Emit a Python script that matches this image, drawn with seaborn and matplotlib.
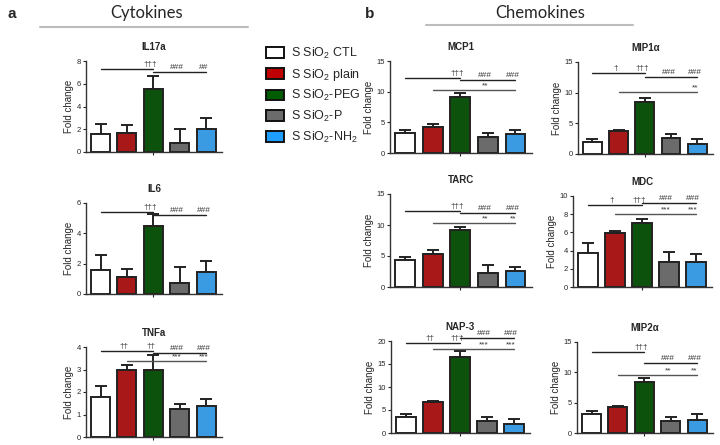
import matplotlib
matplotlib.use("Agg")
import matplotlib.pyplot as plt
from matplotlib.lines import Line2D
from matplotlib.patches import Patch
import numpy as np
import pandas as pd
import seaborn as sns

# groups / legend
groups = ["CTL", "plain", "PEG", "P", "NH2"]
legend_labels = [
    "S SiO$_2$ CTL",
    "S SiO$_2$ plain",
    "S SiO$_2$-PEG",
    "S SiO$_2$-P",
    "S SiO$_2$-NH$_2$",
]
colors = ["#ffffff", "#c00000", "#005c00", "#6b6b6b", "#1e9fff"]

# cytokines
il17a_mean = [1.6, 1.7, 5.5, 0.75, 2.0]
il17a_sd = [0.9, 0.7, 1.2, 1.25, 1.0]
il6_mean = [1.55, 1.15, 4.5, 0.75, 1.45]
il6_sd = [1.0, 0.5, 0.75, 1.0, 0.7]
tnfa_mean = [1.8, 3.0, 3.0, 1.25, 1.38]
tnfa_sd = [0.45, 0.2, 0.65, 0.2, 0.3]

# chemokines
mcp1_mean = [3.2, 4.3, 9.2, 2.6, 3.1]
mcp1_sd = [0.5, 0.4, 0.6, 0.6, 0.7]
mip1a_mean = [2.0, 3.7, 8.5, 2.6, 1.6]
mip1a_sd = [0.4, 0.2, 0.6, 0.7, 0.8]
tarc_mean = [4.4, 5.3, 9.2, 2.2, 2.6]
tarc_sd = [0.4, 0.6, 0.5, 1.4, 0.7]
mdc_mean = [3.75, 5.9, 7.0, 2.75, 2.75]
mdc_sd = [1.05, 0.3, 0.5, 1.1, 0.85]
nap3_mean = [3.4, 6.8, 16.6, 2.6, 1.9]
nap3_sd = [0.8, 0.2, 1.3, 0.8, 1.2]
mip2a_mean = [3.1, 4.3, 8.4, 1.9, 2.1]
mip2a_sd = [0.6, 0.2, 0.7, 0.7, 1.1]

# significance brackets (from bar, to bar, height) and marks (bar, height, text)
il17a_brackets = [(0, 2, 7.3), (2, 4, 7.0)]
il17a_marks = [(2, 7.3, "†††"), (3, 7.0, "###"), (4, 7.0, "##")]
il6_brackets = [(0, 2, 5.4), (2, 4, 5.2)]
il6_marks = [(2, 5.4, "†††"), (3, 5.2, "###"), (4, 5.2, "###")]
tnfa_brackets = [(0, 2, 3.82), (2, 4, 3.72), (1, 4, 3.37)]
tnfa_marks = [(1, 3.82, "††"), (2, 3.82, "††"), (3, 3.72, "###"), (4, 3.72, "###"),
              (3, 3.37, "***"), (4, 3.37, "***")]
mcp1_brackets = [(0, 2, 12.3), (2, 4, 11.9), (1, 4, 10.3)]
mcp1_marks = [(2, 12.3, "†††"), (3, 11.9, "###"), (4, 11.9, "###"), (3, 10.3, "**")]
mip1a_brackets = [(0, 2, 13.2), (2, 4, 12.6), (1, 4, 10.1)]
mip1a_marks = [(1, 13.2, "†"), (2, 13.2, "†††"), (3, 12.6, "###"), (4, 12.6, "###"),
               (4, 10.1, "**")]
tarc_brackets = [(0, 2, 12.3), (2, 4, 12.0), (1, 4, 10.3)]
tarc_marks = [(2, 12.3, "†††"), (3, 12.0, "###"), (4, 12.0, "###"),
              (3, 10.3, "**"), (4, 10.3, "**")]
mdc_brackets = [(0, 2, 9.0), (2, 4, 9.27), (1, 4, 8.0)]
mdc_marks = [(1, 9.0, "†"), (2, 9.0, "†††"), (3, 9.27, "###"), (4, 9.27, "###"),
             (3, 8.0, "***"), (4, 8.0, "***")]
nap3_brackets = [(0, 2, 19.6), (2, 4, 20.7), (1, 4, 18.2)]
nap3_marks = [(1, 19.6, "††"), (2, 19.6, "†††"), (3, 20.7, "###"), (4, 20.7, "###"),
              (3, 18.2, "***"), (4, 18.2, "***")]
mip2a_brackets = [(0, 2, 13.4), (2, 4, 11.5), (1, 4, 9.55)]
mip2a_marks = [(2, 13.4, "†††"), (3, 11.5, "###"), (4, 11.5, "###"),
               (3, 9.55, "**"), (4, 9.55, "**")]

sns.set_style("ticks")
plt.rcParams["font.family"] = ["Liberation Sans", "DejaVu Sans"]
plt.rcParams["mathtext.default"] = "regular"

W, H = 720, 445
fig = plt.figure(figsize=(7.2, 4.45), dpi=100)


def px_axes(left, right, top, bottom):
    return fig.add_axes([left / W, 1 - bottom / H, (right - left) / W, (bottom - top) / H])


def draw_panel(ax, title, mean, sd, yticks, brackets, marks):
    df = pd.DataFrame({"group": groups, "value": mean})
    sns.barplot(data=df, x="group", y="value", hue="group", palette=colors,
                order=groups, hue_order=groups, errorbar=None, legend=False,
                width=0.72, edgecolor="#222222", linewidth=1.4, ax=ax)
    x = np.arange(len(groups))
    ax.errorbar(x, mean, yerr=[np.zeros(len(sd)), sd], fmt="none",
                ecolor="#222222", elinewidth=1.4, capsize=4.5, capthick=1.4, zorder=1)
    for p in ax.patches:
        p.set_zorder(2)
    ax.set_ylim(0, yticks[-1])
    ax.set_yticks(yticks)
    ax.set_xlim(-0.55, 4.6)
    ax.set_xticks([2])
    ax.set_xticklabels([""])
    ax.set_xlabel("")
    ax.set_ylabel("Fold change", fontsize=7, labelpad=2)
    ax.tick_params(axis="y", labelsize=5.5, length=2.5, width=0.8, pad=1)
    ax.tick_params(axis="x", length=2.5, width=0.8)
    ax.set_title(title, fontsize=7, fontweight="bold", pad=8)
    for s in ["left", "bottom"]:
        ax.spines[s].set_linewidth(1.0)
        ax.spines[s].set_color("#333333")
    sns.despine(ax=ax)
    for k, (i0, i1, y) in enumerate(brackets):
        c = "#222222" if k < 2 else "#555555"
        ax.plot([i0, i1], [y, y], color=c, lw=1.0, clip_on=False)
    ymax = yticks[-1]
    for i, y, t in marks:
        ax.text(i - 0.1, y + ymax * 0.01, t, fontsize=6, ha="center", va="bottom",
                color="#333333", clip_on=False)


draw_panel(px_axes(86, 222, 61, 152), "IL17a", il17a_mean, il17a_sd,
           [0, 2, 4, 6, 8], il17a_brackets, il17a_marks)
draw_panel(px_axes(86, 222, 203, 294), "IL6", il6_mean, il6_sd,
           [0, 2, 4, 6], il6_brackets, il6_marks)
draw_panel(px_axes(86, 222, 347, 437), "TNFa", tnfa_mean, tnfa_sd,
           [0, 1, 2, 3, 4], tnfa_brackets, tnfa_marks)

draw_panel(px_axes(390, 532, 61, 153), "MCP1", mcp1_mean, mcp1_sd,
           [0, 5, 10, 15], mcp1_brackets, mcp1_marks)
draw_panel(px_axes(578, 713, 62, 154), "MIP1\u03b1", mip1a_mean, mip1a_sd,
           [0, 5, 10, 15], mip1a_brackets, mip1a_marks)
draw_panel(px_axes(390, 532, 194, 287), "TARC", tarc_mean, tarc_sd,
           [0, 5, 10, 15], tarc_brackets, tarc_marks)
draw_panel(px_axes(573, 712, 196, 287), "MDC", mdc_mean, mdc_sd,
           [0, 2, 4, 6, 8, 10], mdc_brackets, mdc_marks)
draw_panel(px_axes(391, 530, 341, 433), "NAP-3", nap3_mean, nap3_sd,
           [0, 5, 10, 15, 20], nap3_brackets, nap3_marks)
draw_panel(px_axes(577, 713, 342, 433), "MIP2\u03b1", mip2a_mean, mip2a_sd,
           [0, 5, 10, 15], mip2a_brackets, mip2a_marks)

# headers
fig.text(7 / W, 1 - 14 / H, "a", fontsize=11, fontweight="bold", va="center")
fig.text(365 / W, 1 - 14 / H, "b", fontsize=11, fontweight="bold", va="center")
fig.text(147 / W, 1 - 13 / H, "Cytokines", fontsize=12, family="Lato",
         ha="center", va="center")
fig.text(540 / W, 1 - 13 / H, "Chemokines", fontsize=12, family="Lato",
         ha="center", va="center")
fig.add_artist(Line2D([40 / W, 248 / W], [1 - 27 / H, 1 - 27 / H],
                      color="#bdbdbd", lw=1.5))
fig.add_artist(Line2D([426 / W, 633 / W], [1 - 25 / H, 1 - 25 / H],
                      color="#bdbdbd", lw=1.5))

handles = [Patch(facecolor=c, edgecolor="#111111", linewidth=1.4) for c in colors]
fig.legend(handles, legend_labels, loc="upper left",
           bbox_to_anchor=(266 / W, 1 - 46 / H), frameon=False, fontsize=9,
           handlelength=1.4, handleheight=0.95, handletextpad=0.6,
           labelspacing=0.45, borderpad=0, borderaxespad=0)

fig.savefig("out.png", dpi=100)
